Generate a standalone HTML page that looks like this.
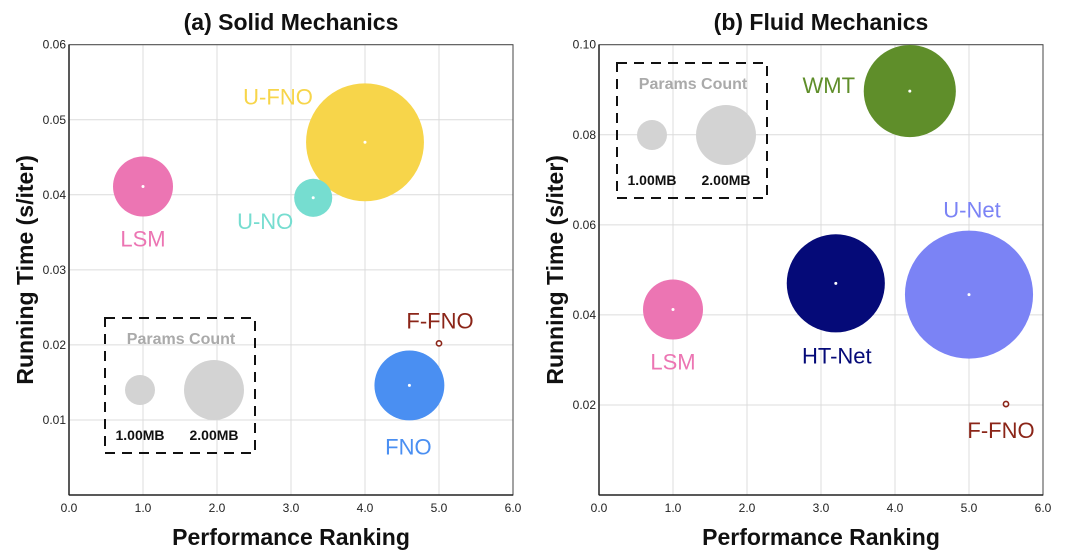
<!DOCTYPE html>
<html><head><meta charset="utf-8"><style>
body{margin:0;background:#fff}
svg text{font-family:"Liberation Sans",sans-serif}
</style></head><body>
<svg id="c" width="1080" height="555" viewBox="0 0 1080 555" xmlns="http://www.w3.org/2000/svg"></svg>
<script>
const xTicks=[0,1,2,3,4,5,6];
const xTickLabels=["0.0","1.0","2.0","3.0","4.0","5.0","6.0"];
const yTicksA=[0.01,0.02,0.03,0.04,0.05,0.06];
const yTickLabelsA=["0.01","0.02","0.03","0.04","0.05","0.06"];
const yTicksB=[0.02,0.04,0.06,0.08,0.10];
const yTickLabelsB=["0.02","0.04","0.06","0.08","0.10"];
const modelsA=["LSM","U-FNO","U-NO","FNO","F-FNO"];
const rankA=[1.0,4.0,3.3,4.6,5.0];
const timeA=[0.0411,0.047,0.0396,0.0146,0.0202];
const paramsA=[2.0,3.93,1.27,2.33,0.15];
const modelsB=["WMT","LSM","HT-Net","U-Net","F-FNO"];
const rankB=[4.2,1.0,3.2,5.0,5.5];
const timeB=[0.0897,0.0412,0.047,0.0445,0.0202];
const paramsB=[3.07,2.0,3.27,4.27,0.15];
const colors={"LSM":"#ec75b3","U-FNO":"#f7d54a","U-NO":"#76ddd0","FNO":"#4a8ff2","F-FNO":"#8b2518","WMT":"#5f8e2a","HT-Net":"#050a78","U-Net":"#7b83f5"};
const labelOff={ // label offsets from bubble center (px), per panel
 a:{"LSM":[0,60],"U-FNO":[-87,-38],"U-NO":[-48,31],"FNO":[-1,69],"F-FNO":[1,-15]},
 b:{"WMT":[-81,2],"LSM":[0,60],"HT-Net":[1,80],"U-Net":[3,-77],"F-FNO":[-5,34]}};
const S="http://www.w3.org/2000/svg";const svg=document.getElementById('c');
function el(t,a,p){const e=document.createElementNS(S,t);for(const k in a)e.setAttribute(k,a[k]);(p||svg).appendChild(e);return e;}
function panel(key,x0,x1,yTop,yBot,ymax,yTicks,yLabels,models,rank,time,params,title,legend){
 const g=el('g',{});
 
 
 const X=v=>x0+(v/6)*(x1-x0), Y=v=>yBot-(v/ymax)*(yBot-yTop);
 xTicks.forEach((t,i)=>{el('line',{x1:X(t),x2:X(t),y1:yTop,y2:yBot,stroke:'#dcdcdc','stroke-width':1},g);
  const tl=el('text',{x:X(t),y:yBot+17,'font-size':12,'text-anchor':'middle',fill:'#222'},g);tl.textContent=xTickLabels[i];
  
  });
 yTicks.forEach((t,i)=>{el('line',{x1:x0,x2:x1,y1:Y(t),y2:Y(t),stroke:'#dcdcdc','stroke-width':1},g);
  const tl=el('text',{x:x0-3,y:Y(t)+4,'font-size':12,'text-anchor':'end',fill:'#222'},g);tl.textContent=yLabels[i];
  
  });
 el('rect',{x:x0,y:yTop,width:x1-x0,height:yBot-yTop,fill:'none',stroke:'#444','stroke-width':1},g);
 el('line',{x1:x0,x2:x0,y1:yTop,y2:yBot,stroke:'#222','stroke-width':1.5},g);
 el('line',{x1:x0,x2:x1,y1:yBot,y2:yBot,stroke:'#222','stroke-width':1.5},g);
 // legend
 const lg=el('g',{},g);
 
 
 el('rect',{x:legend.x,y:legend.y,width:150,height:135,fill:'none',stroke:'#111','stroke-width':2,'stroke-dasharray':'10,7'},lg);
 const lt=el('text',{x:legend.x+76,y:legend.y+26,'font-size':16,'text-anchor':'middle',fill:'#aaa','font-weight':'bold'},lg);lt.textContent='Params Count';
 [[1,35],[2,109]].forEach(([mb,dx])=>{el('circle',{cx:legend.x+dx,cy:legend.y+72,r:15*mb,fill:'#d3d3d3'},lg);
  const t=el('text',{x:legend.x+dx,y:legend.y+122,'font-size':14,'text-anchor':'middle',fill:'#111','font-weight':'bold'},lg);t.textContent=mb.toFixed(2)+'MB';});
 models.forEach((m,i)=>{
  const cx=X(rank[i]),cy=Y(time[i]),r=15*params[i];
  let c;
  if(r<4){c=el('circle',{cx,cy,r:2.6,fill:'#fff',stroke:colors[m],'stroke-width':1.6},g);}
  else{c=el('circle',{cx,cy,r,fill:colors[m]},g);el('circle',{cx,cy,r:1.5,fill:'#fff'},g);}
  
  
  const o=labelOff[key][m];
  const t=el('text',{x:cx+o[0],y:cy+o[1],'font-size':22,'text-anchor':'middle',fill:colors[m]},g);t.textContent=m;
  
  
 });
 const tt=el('text',{x:(x0+x1)/2,y:30,'font-size':23,'text-anchor':'middle','font-weight':'bold',fill:'#111','xml:space':'preserve'},g);tt.textContent=title;
 
 
 const xt=el('text',{x:(x0+x1)/2,y:545,'font-size':23,'text-anchor':'middle','font-weight':'bold',fill:'#111'},g);xt.textContent='Performance Ranking';
 
 
 const yx=x0-36,yy=(yTop+yBot)/2;
 const yt=el('text',{x:yx,y:yy,'font-size':23,'text-anchor':'middle','font-weight':'bold',fill:'#111',transform:`rotate(-90 ${yx} ${yy})`},g);yt.textContent='Running Time (s/iter)';
 
 
}
panel('a',69,513,44.7,495,0.06,yTicksA,yTickLabelsA,modelsA,rankA,timeA,paramsA,'(a)  Solid Mechanics',{x:105,y:318});
panel('b',599,1043,44.7,495,0.10,yTicksB,yTickLabelsB,modelsB,rankB,timeB,paramsB,'(b)  Fluid Mechanics',{x:617,y:63});
</script>
</body></html>
